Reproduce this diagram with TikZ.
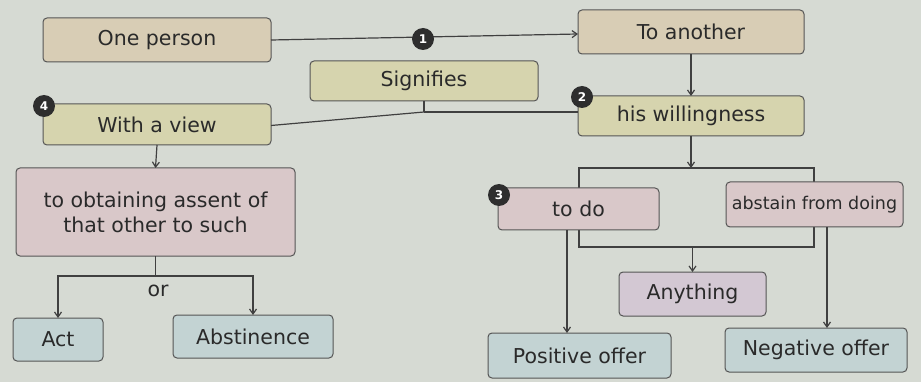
\documentclass[tikz,border=0pt]{standalone}
\usepackage{fontspec}
\setmainfont{DejaVu Sans}
\usetikzlibrary{arrows.meta}
\definecolor{bg}{HTML}{D6DAD3}
\definecolor{tan}{HTML}{D8CDB5}
\definecolor{olive}{HTML}{D6D4AE}
\definecolor{rose}{HTML}{D9C8C9}
\definecolor{lilac}{HTML}{D3C8D3}
\definecolor{teal}{HTML}{C3D3D3}
\definecolor{edge}{HTML}{555555}
\definecolor{wire}{HTML}{404040}
\definecolor{ink}{HTML}{2A2A2A}
\definecolor{badgec}{HTML}{2E2E2E}
\begin{document}
\begin{tikzpicture}[x=1pt,y=-1pt,
  box/.style={draw=edge, line width=1pt, rounded corners=4pt, outer sep=0pt,
    inner sep=2pt, font=\fontsize{20.5}{25}\selectfont, text=ink, align=center},
  plain/.style={font=\fontsize{20.5}{25}\selectfont, text=ink, inner sep=1pt},
  link/.style={draw=wire, line width=1.2pt},
  arr/.style={link, -{Straight Barb[length=5pt,width=7pt]}},
  badge/.style={circle, fill=badgec, text=white, font=\fontsize{12}{12}\selectfont\bfseries,
    inner sep=0pt, minimum size=22pt}
]
\fill[bg] (0,0) rectangle (921,382);
\useasboundingbox (0,0) rectangle (921,382);

% frame that gathers "to do" and "abstain from doing"
\coordinate (brTL) at (579,168);
\coordinate (brBR) at (814,247);
\draw[link] (brTL) rectangle (brBR);

% boxes
\node[box, fill=tan,   minimum width=228pt, minimum height=44pt] (one)     at (157,40)    {One person};
\node[box, fill=tan,   minimum width=226pt, minimum height=44pt] (another) at (691,32)    {To another};
\node[box, fill=olive, minimum width=228pt, minimum height=40pt] (sig)     at (424,81)    {Signifies};
\node[box, fill=olive, minimum width=226pt, minimum height=40pt] (will)    at (691,116)   {his willingness};
\node[box, fill=olive, minimum width=228pt, minimum height=41pt] (view)    at (157,124.5) {With a view};
\node[box, fill=rose,  minimum width=279pt, minimum height=88pt] (obt)     at (155.5,212) {to obtaining assent of\\that other to such};
\node[box, fill=teal,  minimum width=90pt,  minimum height=43pt] (act)     at (58,339.5)  {Act};
\node[box, fill=teal,  minimum width=160pt, minimum height=43pt] (abst)    at (253,336.5) {Abstinence};
\node[box, fill=rose,  minimum width=161pt, minimum height=42pt] (todo)    at (578.5,209) {to do};
\node[box, fill=rose,  minimum width=177pt, minimum height=45pt,
      font=\fontsize{17.5}{21}\selectfont] (abstain) at (814.5,204.5) {abstain from doing};
\node[box, fill=lilac, minimum width=147pt, minimum height=44pt] (anything) at (692.5,294) {Anything};
\node[box, fill=teal,  minimum width=183pt, minimum height=45pt] (pos)     at (579.5,355.5) {Positive offer};
\node[box, fill=teal,  minimum width=182pt, minimum height=44pt] (neg)     at (816,350)   {Negative offer};

% connectors
\draw[arr] (one.east) -- ([yshift=-2pt]another.west);
\draw[arr] (another.south) -- (will.north);
\draw[link] (sig.south) -- ++(0,11) coordinate (sj);
\draw[link] (sj) -- ([yshift=-1pt]view.east);
\draw[link] (sj) -- ([yshift=4pt]will.west);
\draw[arr] (view.south) -- (obt.north);
\draw[link] (obt.south) -- ++(0,20) coordinate (orj);
\draw[arr] (orj) -| (act.north);
\draw[arr] (orj) -| (abst.north);
\node[plain] (ortext) at (158,291) {or};
\draw[arr] (will.south) -- (will.south |- brTL);
\draw[arr] (anything.north |- brBR) -- (anything.north);
\draw[arr] ([xshift=-11.5pt]todo.south) -- ([xshift=-12.5pt]pos.north);
\draw[arr] ([xshift=12.5pt]abstain.south) -- ([xshift=11pt]neg.north);

% numbered markers
\node[badge] (b1) at (423,39)  {1};
\node[badge] (b2) at (582,97)  {2};
\node[badge] (b3) at (499,195) {3};
\node[badge] (b4) at (44,106)  {4};
\end{tikzpicture}
\end{document}
